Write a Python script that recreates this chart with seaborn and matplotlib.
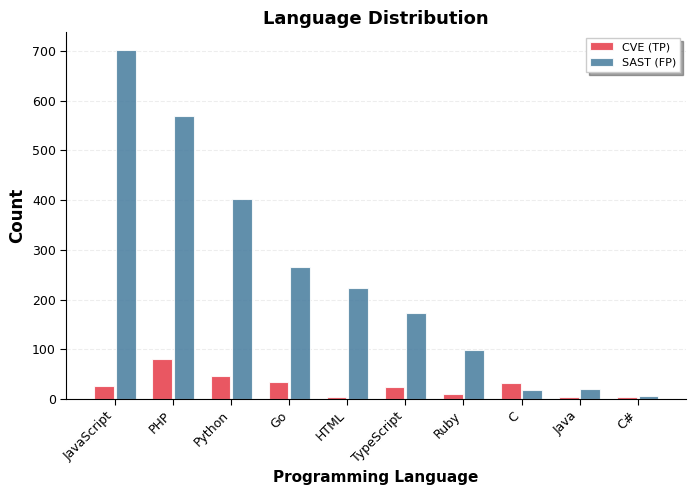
import pandas as pd
import numpy as np
import matplotlib
matplotlib.use('Agg')
import matplotlib.pyplot as plt
import seaborn as sns

languages = ['JavaScript', 'PHP', 'Python', 'Go', 'HTML', 'TypeScript', 'Ruby', 'C', 'Java', 'C#']
cve_tp = [26, 81, 46, 34, 4, 24, 10, 32, 3, 3]
sast_fp = [703, 570, 403, 266, 224, 173, 99, 18, 20, 6]
series_names = ['CVE (TP)', 'SAST (FP)']

df = pd.DataFrame({
    'language': languages * 2,
    'count': cve_tp + sast_fp,
    'source': [series_names[0]] * len(languages) + [series_names[1]] * len(languages),
})

sns.set_style('white')
plt.rcParams['font.family'] = ['DejaVu Sans']
plt.rcParams.update({'text.color': 'black', 'axes.labelcolor': 'black',
                     'xtick.color': 'black', 'ytick.color': 'black',
                     'axes.edgecolor': 'black'})

fig, ax = plt.subplots(figsize=(6.97, 4.95), dpi=100)
sns.barplot(data=df, x='language', y='count', hue='source', order=languages,
            hue_order=series_names, palette=['#e63946', '#457b9d'], alpha=0.85,
            saturation=1, width=0.74, gap=0.08, edgecolor='white', linewidth=0.8, ax=ax)

ax.set_xlim(-0.84, len(languages) - 0.17)
ax.set_ylim(0, 738)
ax.set_title('Language Distribution', fontsize=13, fontweight='bold')
ax.set_xlabel('Programming Language', fontsize=11, fontweight='bold')
ax.set_ylabel('Count', fontsize=12, fontweight='bold')
plt.setp(ax.get_xticklabels(), rotation=45, ha='right', fontsize=9)
plt.setp(ax.get_yticklabels(), fontsize=9)
ax.tick_params(axis='both', which='both', length=4, bottom=True, left=True)
ax.yaxis.grid(True, linestyle='--', alpha=0.35)
ax.set_axisbelow(True)
sns.despine(ax=ax)
ax.legend(title=None, loc='upper right', fontsize=8, frameon=True, shadow=True,
          fancybox=False)

fig.subplots_adjust(left=0.095, right=0.984, top=0.935, bottom=0.194)
plt.savefig('out.png', dpi=100)
